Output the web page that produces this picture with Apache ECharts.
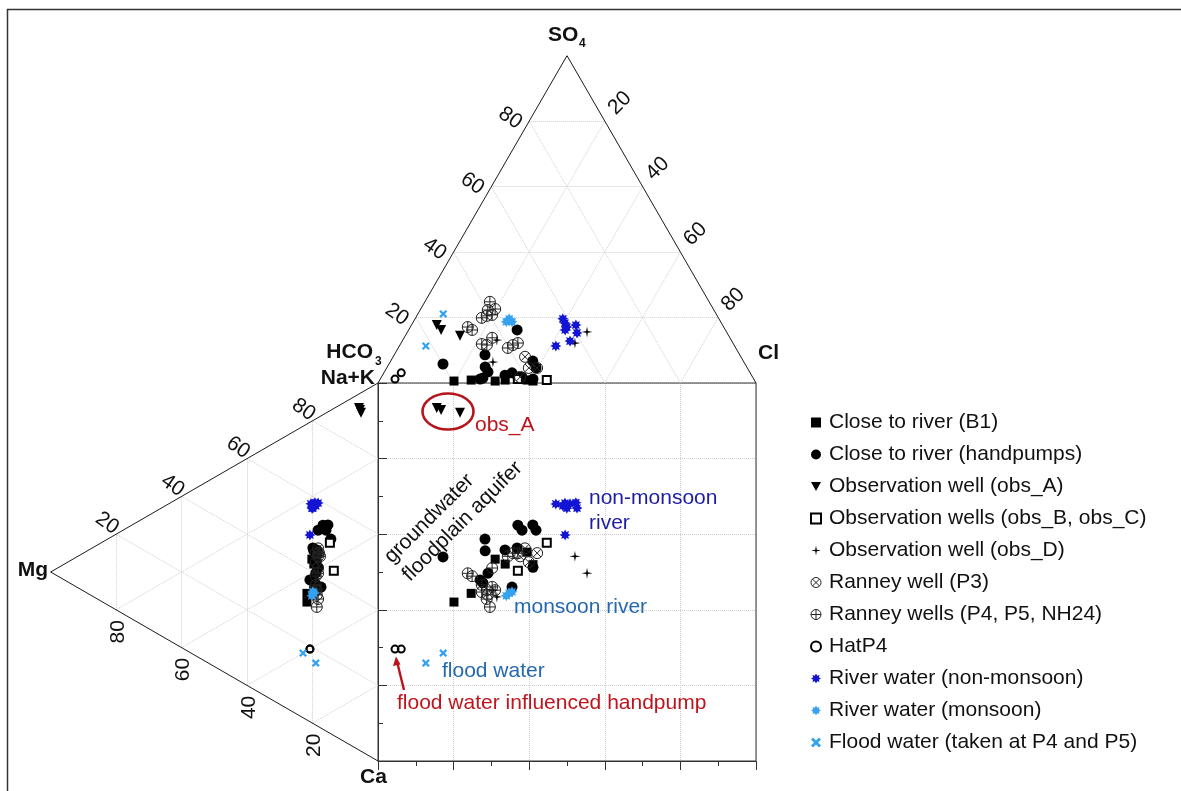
<!DOCTYPE html>
<html>
<head>
<meta charset="utf-8">
<script src="https://cdn.jsdelivr.net/npm/echarts@6/dist/echarts.min.js"></script>
<style>
  html, body { margin: 0; padding: 0; background: #fff; }
  #chart { width: 1181px; height: 791px; }
</style>
</head>
<body>
<div id="chart"></div>
<script>
// Ternary tick values used on every triangle edge
const triTicks = [20, 40, 60, 80];

// Samples: [Cl %, SO4 %, Mg %, Na+K %]  (HCO3 and Ca are the remainders)
const closeRiverB1 = [
  [19.8, 0.6, 21.7, 31.2], [24.2, 0.9, 21.7, 33.5], [30.7, 0.6, 20.2, 43.3],
  [33.2, 0.9, 19.6, 42.3], [39.0, 0.9, 18.3, 46.1], [40.7, 0.6, 18.7, 42.6]
];
const closeRiverHandpumps = [
  [14.3, 5.8, 19.0, 44.5], [24.0, 8.6, 14.4, 51.5], [25.9, 4.9, 19.6, 45.8],
  [32.4, 2.4, 18.7, 46.5], [28.7, 16.2, 19.9, 46.4], [36.1, 1.8, 16.8, 54.0],
  [37.2, 1.8, 18.3, 51.9], [37.6, 6.7, 15.3, 54.8], [39.5, 4.6, 15.9, 53.1],
  [40.4, 1.2, 18.3, 42.1], [33.9, 3.1, 17.4, 37.3], [27.4, 3.4, 19.0, 40.2],
  [26.4, 1.2, 20.8, 37.5], [27.0, 1.5, 19.3, 37.5]
];
const obsWellA = [
  [6.7, 17.7, 5.8, 90.5], [8.6, 16.2, 5.5, 90.1], [14.5, 14.4, 5.2, 89.5]
];
const obsWellsBC = [
  [44.2, 0.9, 14.7, 50.4], [36.4, 1.2, 13.5, 43.6]
];
const obsWellD = [
  [47.5, 15.6, 19.0, 40.2], [46.0, 12.2, 18.3, 45.0],
  [24.9, 13.1, 19.6, 33.6], [27.2, 6.4, 19.0, 35.7]
];
const ranneyP3 = [
  [39.8, 4.6, 19.0, 45.5], [34.9, 8.0, 18.3, 47.1],
  [37.6, 4.6, 19.0, 43.1], [36.7, 1.8, 18.3, 45.0]
];
const ranneyP4P5NH24 = [
  [15.2, 17.1, 18.3, 40.5], [16.8, 16.2, 19.0, 39.4], [17.5, 19.9, 19.6, 34.9],
  [21.5, 11.9, 19.0, 37.1], [18.5, 20.5, 18.3, 33.7], [23.0, 11.6, 18.7, 35.9],
  [17.2, 24.8, 18.7, 31.4], [19.8, 20.8, 19.3, 36.4], [23.3, 13.8, 18.3, 41.9],
  [19.7, 22.6, 19.0, 35.7], [17.9, 22.3, 18.7, 34.6], [29.0, 10.7, 17.7, 45.3],
  [29.9, 11.6, 18.0, 46.0], [30.9, 12.2, 18.3, 45.8]
];
const hatP4 = [
  [3.9, 1.2, 20.8, 19.2], [4.6, 3.1, 20.8, 19.2]
];
const riverNonMonsoon = [
  [41.4, 11.3, 19.6, 58.2], [39.1, 19.6, 19.0, 58.0], [40.3, 18.3, 18.3, 59.1],
  [41.4, 17.1, 19.9, 56.9], [44.4, 12.8, 20.5, 57.8], [43.5, 17.7, 19.3, 58.7],
  [45.0, 15.3, 20.2, 56.8], [41.4, 16.2, 20.8, 49.4]
];
const riverMonsoon = [
  [24.6, 18.7, 20.2, 33.6], [24.9, 19.6, 19.6, 34.6], [26.1, 18.7, 19.9, 34.8]
];
const floodWater = [
  [6.7, 21.1, 22.9, 17.1], [7.0, 11.3, 19.0, 16.4]
];

const seriesNames = [
  'Close to river (B1)', 'Close to river (handpumps)', 'Observation well (obs_A)',
  'Observation wells (obs_B, obs_C)', 'Observation well (obs_D)', 'Ranney well (P3)',
  'Ranney wells (P4, P5, NH24)', 'HatP4', 'River water (non-monsoon)',
  'River water (monsoon)', 'Flood water (taken at P4 and P5)'
];

// ---- diagram geometry (square side = 100 units) ----
const H = Math.sqrt(3) / 2;
// anion triangle above the square: HCO3 (0,100), Cl (100,100), SO4 apex
function topPt(cl, so4) { return [cl + so4 / 2, 100 + H * so4]; }
// cation triangle left of the square: Na+K (0,100), Ca (0,0), Mg at left
function leftPt(mg, nak) { return [-H * mg, nak + mg / 2]; }
// central square: projection of both triangle positions
function squarePt(s) { return [s[0] + s[1] / 2, s[3] + s[2] / 2]; }
function samplePoints(arr) {
  const out = [];
  arr.forEach(s => {
    out.push(topPt(s[0], s[1]));
    out.push(leftPt(s[2], s[3]));
    out.push(squarePt(s));
  });
  return out;
}

// ---- marker shapes ----
function starPath(n, r1, r2) {
  let d = '';
  for (let i = 0; i < 2 * n; i++) {
    const a = Math.PI * i / n - Math.PI / 2;
    const r = i % 2 ? r2 : r1;
    d += (i ? 'L' : 'M') + (r * Math.cos(a)).toFixed(2) + ',' + (r * Math.sin(a)).toFixed(2);
  }
  return 'path://' + d + 'Z';
}
const circlePath = 'M0,-10A10,10,0,1,1,0,10A10,10,0,1,1,0,-10Z';
const symCirclePlus = 'path://' + circlePath + 'M-10,0L10,0M0,-10L0,10';
const symCircleX = 'path://' + circlePath + 'M-7.07,-7.07L7.07,7.07M-7.07,7.07L7.07,-7.07';
const symAsterisk = starPath(8, 10, 6);
const symSparkle = starPath(4, 10, 2.2);
const symCross = 'path://M-10,-6L-6,-10L0,-4L6,-10L10,-6L4,0L10,6L6,10L0,4L-6,10L-10,6L-4,0Z';
const symTriDown = 'path://M-10,-9L10,-9L0,9Z';

const BLACK = '#000';
const DARK_BLUE = '#1414d4';
const LIGHT_BLUE = '#34a2f0';
const CLEAR = 'rgba(255,255,255,0)';
const FONT = 'Liberation Sans, Arial, sans-serif';

function scatter(name, samples, symbol, size, itemStyle) {
  return {
    type: 'scatter', name: name, data: samplePoints(samples),
    xAxisIndex: 0, yAxisIndex: 0,
    symbol: symbol, symbolSize: size,
    itemStyle: Object.assign({ opacity: 1 }, itemStyle),
    emphasis: { disabled: true }, z: 5
  };
}

// ---- triangle outlines and grid lines ----
function seg(a, b) { return { coords: [a, b] }; }
const gridSegs = [];
triTicks.forEach(t => {
  gridSegs.push(seg(topPt(0, t), topPt(100 - t, t)));       // SO4 = t
  gridSegs.push(seg(topPt(t, 0), topPt(t, 100 - t)));       // Cl = t
  gridSegs.push(seg(topPt(100 - t, 0), topPt(0, 100 - t))); // HCO3 = t
  gridSegs.push(seg(leftPt(t, 0), leftPt(t, 100 - t)));     // Mg = t
  gridSegs.push(seg(leftPt(0, t), leftPt(100 - t, t)));     // Na+K = t
  gridSegs.push(seg(leftPt(0, 100 - t), leftPt(100 - t, 0))); // Ca = t
});
const outlineSegs = [
  seg(topPt(0, 0), topPt(0, 100)), seg(topPt(0, 100), topPt(100, 0)),
  seg(leftPt(0, 100), leftPt(100, 0)), seg(leftPt(100, 0), leftPt(0, 0))
];

// legend entries with their own icon outline widths
const legendBorder = [0, 0, 0, 2, 0, 1, 1, 2, 0, 0, 0];

const span = 100 + 100 * H;
const option = {
  animation: false,
  backgroundColor: '#fff',
  grid: [
    { left: 378 - 378 * H, top: 383 - 378 * H, width: 378 * (1 + H), height: 378 * (1 + H), show: false },
    { left: 378, top: 383, width: 378, height: 378, show: true, borderColor: '#333', borderWidth: 1, backgroundColor: 'transparent', z: 1 }
  ],
  xAxis: [
    { gridIndex: 0, type: 'value', min: -100 * H, max: 100, show: false },
    { gridIndex: 1, type: 'value', min: 0, max: 100, interval: 20, position: 'bottom',
      axisLine: { show: true, lineStyle: { color: '#333', width: 1 } },
      axisTick: { show: true, inside: false, length: 9, lineStyle: { color: '#333' } },
      minorTick: { show: true, splitNumber: 2, length: 5, lineStyle: { color: '#333' } },
      axisLabel: { show: false },
      splitLine: { show: true, lineStyle: { type: 'dotted', color: '#cfcfcf' } } }
  ],
  yAxis: [
    { gridIndex: 0, type: 'value', min: 0, max: span, show: false },
    { gridIndex: 1, type: 'value', min: 0, max: 100, interval: 20, position: 'right',
      axisLine: { show: true, lineStyle: { color: '#333', width: 1 } },
      axisTick: { show: true, inside: false, length: 9, lineStyle: { color: '#333' } },
      minorTick: { show: true, splitNumber: 2, length: 5, lineStyle: { color: '#333' } },
      axisLabel: { show: false },
      splitLine: { show: true, lineStyle: { type: 'dotted', color: '#cfcfcf' } } }
  ],
  legend: {
    orient: 'vertical', left: 805, top: 406.5,
    itemWidth: 10, itemHeight: 10, itemGap: 10,
    selectedMode: false,
    textStyle: { fontSize: 21, fontFamily: FONT, color: '#111', lineHeight: 22, padding: [0, 0, 0, 3] },
    data: seriesNames.map((n, i) => ({ name: n, itemStyle: { borderWidth: legendBorder[i] } }))
  },
  series: [
    { type: 'lines', coordinateSystem: 'cartesian2d', xAxisIndex: 0, yAxisIndex: 0, silent: true, z: 1,
      lineStyle: { color: '#cfcfcf', width: 1, type: 'dotted', opacity: 1 }, data: gridSegs },
    { type: 'lines', coordinateSystem: 'cartesian2d', xAxisIndex: 0, yAxisIndex: 0, silent: true, z: 2,
      lineStyle: { color: '#1a1a1a', width: 1, type: 'solid', opacity: 1 }, data: outlineSegs },
    scatter(seriesNames[0], closeRiverB1, 'rect', 9, { color: BLACK }),
    scatter(seriesNames[1], closeRiverHandpumps, 'circle', 11, { color: BLACK }),
    scatter(seriesNames[2], obsWellA, symTriDown, 10, { color: BLACK }),
    scatter(seriesNames[3], obsWellsBC, 'rect', 8, { color: '#fff', borderColor: BLACK, borderWidth: 2 }),
    scatter(seriesNames[4], obsWellD, symSparkle, 11, { color: BLACK }),
    scatter(seriesNames[5], ranneyP3, symCircleX, 11, { color: CLEAR, borderColor: '#222', borderWidth: 1 }),
    scatter(seriesNames[6], ranneyP4P5NH24, symCirclePlus, 11, { color: CLEAR, borderColor: '#222', borderWidth: 1 }),
    scatter(seriesNames[7], hatP4, 'circle', 7, { color: CLEAR, borderColor: BLACK, borderWidth: 2 }),
    scatter(seriesNames[8], riverNonMonsoon, symAsterisk, 11, { color: DARK_BLUE }),
    scatter(seriesNames[9], riverMonsoon, symAsterisk, 11, { color: LIGHT_BLUE }),
    scatter(seriesNames[10], floodWater, symCross, 8, { color: LIGHT_BLUE })
  ]
};

const chart = echarts.init(document.getElementById('chart'), null, { renderer: 'canvas' });
chart.setOption(option);

// ---- text and annotation layer ----
function px(p) { return chart.convertToPixel({ gridIndex: 0 }, p); }
function txt(x, y, text, opt) {
  opt = opt || {};
  return {
    type: 'text', x: x, y: y, rotation: (opt.rot || 0) * Math.PI / 180, z: 20, silent: true,
    style: {
      text: text, fill: opt.color || '#111',
      font: (opt.bold ? 'bold ' : '') + (opt.size || 21) + 'px ' + FONT,
      align: opt.align || 'left', verticalAlign: opt.va || 'middle'
    }
  };
}

const graphics = [];
// outer frame
graphics.push({ type: 'polyline', silent: true, z: 0,
  shape: { points: [[7.5, 800], [7.5, 9.5], [1200, 9.5]] },
  style: { stroke: '#333', lineWidth: 1.5, fill: null } });

// tick labels on the triangle edges
triTicks.forEach(t => {
  let p = px(topPt(0, t));
  graphics.push(txt(p[0] - 19, p[1] - 3, String(t), { align: 'center', rot: -35 }));
  p = px(topPt(t, 100 - t));
  graphics.push(txt(p[0] + 15, p[1] - 18, String(t), { align: 'center', rot: 45 }));
  p = px(leftPt(100 - t, t));
  graphics.push(txt(p[0] - 9, p[1] - 11, String(t), { align: 'center', rot: -35 }));
  p = px(leftPt(t, 0));
  graphics.push(txt(p[0] + 2, p[1] + 22, String(t), { align: 'center', rot: 90 }));
});

// end-member labels
graphics.push(txt(548, 35, 'SO', { bold: true }));
graphics.push(txt(579, 44, '4', { bold: true, size: 12 }));
graphics.push(txt(373, 352, 'HCO', { bold: true, align: 'right' }));
graphics.push(txt(375, 362, '3', { bold: true, size: 12 }));
graphics.push(txt(375, 378, 'Na+K', { bold: true, align: 'right' }));
graphics.push(txt(758, 353, 'Cl', { bold: true }));
graphics.push(txt(48, 570, 'Mg', { bold: true, align: 'right' }));
graphics.push(txt(360, 777, 'Ca', { bold: true }));

// annotations
const RED = '#c0141c';
const NAVY = '#1c1ca6';
const MIDBLUE = '#2468b0';
graphics.push({ type: 'ellipse', silent: true, z: 20,
  shape: { cx: 448, cy: 411.5, rx: 25.5, ry: 18 },
  style: { fill: null, stroke: '#b8141c', lineWidth: 2.6 } });
graphics.push(txt(475, 425, 'obs_A', { color: RED }));
graphics.push(txt(589, 498, 'non-monsoon', { color: NAVY }));
graphics.push(txt(589, 523, 'river', { color: NAVY }));
graphics.push(txt(514, 607, 'monsoon river', { color: MIDBLUE }));
graphics.push(txt(442, 671, 'flood water', { color: MIDBLUE }));
graphics.push(txt(397, 703, 'flood water influenced handpump', { color: RED }));
graphics.push(txt(388, 560, 'groundwater', { rot: 45 }));
graphics.push(txt(406, 578, 'floodplain aquifer', { rot: 45 }));
graphics.push({ type: 'line', silent: true, z: 20,
  shape: { x1: 404, y1: 690, x2: 397.6, y2: 664 },
  style: { stroke: '#b8141c', lineWidth: 2.4 } });
graphics.push({ type: 'polygon', silent: true, z: 20,
  shape: { points: [[396, 656.5], [393, 666], [400.5, 664.5]] },
  style: { fill: '#b8141c' } });

chart.setOption({ graphic: graphics });
</script>
</body>
</html>
